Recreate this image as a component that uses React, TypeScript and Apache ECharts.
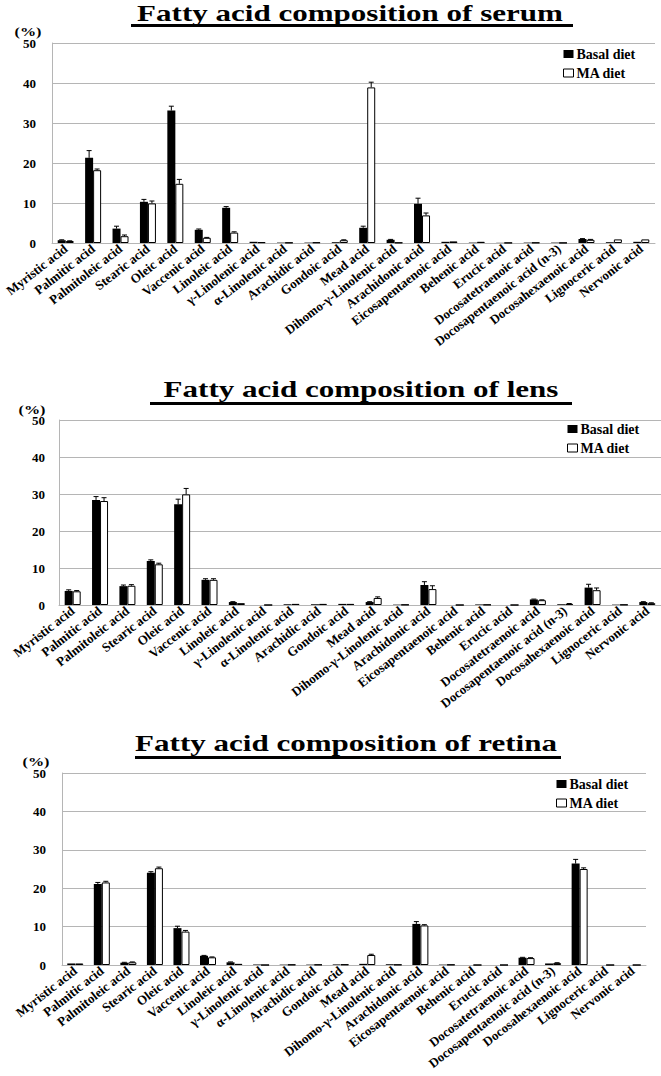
import React, { useEffect, useRef } from "react";
import * as echarts from "echarts";

const categories = [
  "Myristic acid",
  "Palmitic acid",
  "Palmitoleic acid",
  "Stearic acid",
  "Oleic acid",
  "Vaccenic acid",
  "Linoleic acid",
  "γ-Linolenic acid",
  "α-Linolenic acid",
  "Arachidic acid",
  "Gondoic acid",
  "Mead acid",
  "Dihomo-γ-Linolenic acid",
  "Arachidonic acid",
  "Eicosapentaenoic acid",
  "Behenic acid",
  "Erucic acid",
  "Docosatetraenoic acid",
  "Docosapentaenoic acid (n-3)",
  "Docosahexaenoic acid",
  "Lignoceric acid",
  "Nervonic acid",
];

const seriesNames = ["Basal diet", "MA diet"];
const yTicks = [0, 10, 20, 30, 40, 50];

const serumBasal = [0.7, 21.3, 3.6, 10.3, 33.1, 3.3, 8.8, 0.3, 0.1, 0.1, 0.2, 3.8, 0.8, 9.8, 0.3, 0.1, 0.05, 0.1, 0.1, 1.0, 0.2, 0.3];
const serumMA = [0.5, 18.2, 1.7, 9.9, 14.8, 1.3, 2.6, 0.2, 0.1, 0.15, 0.7, 38.9, 0.1, 6.9, 0.4, 0.3, 0.05, 0.1, 0.05, 0.8, 0.9, 0.9];
const serumBasalErr = [0.1, 1.8, 0.6, 0.6, 1.1, 0.2, 0.3, 0, 0, 0, 0, 0.4, 0.1, 1.4, 0, 0, 0, 0, 0, 0.1, 0, 0];
const serumMAErr = [0.05, 0.3, 0.3, 0.6, 1.1, 0.1, 0.2, 0, 0, 0, 0.1, 1.3, 0, 0.6, 0, 0, 0, 0, 0, 0.1, 0, 0];

const lensBasal = [3.8, 28.4, 5.1, 11.9, 27.2, 6.8, 0.8, 0, 0.2, 0.2, 0.3, 0.8, 0.1, 5.4, 0, 0.15, 0, 1.5, 0.2, 4.7, 0.1, 0.8];
const lensMA = [3.7, 28.1, 5.2, 11.0, 29.9, 6.8, 0.5, 0, 0.3, 0.3, 0.3, 1.9, 0.1, 4.3, 0, 0.1, 0, 1.3, 0.3, 4.0, 0.1, 0.5];
const lensBasalErr = [0.3, 0.9, 0.3, 0.3, 1.4, 0.3, 0.1, 0, 0, 0, 0, 0.1, 0, 0.9, 0, 0, 0, 0.1, 0, 0.9, 0, 0.1];
const lensMAErr = [0.2, 0.9, 0.3, 0.3, 1.6, 0.3, 0, 0, 0, 0, 0, 0.3, 0, 0.9, 0, 0, 0, 0.1, 0.1, 0.6, 0, 0.1];

const retinaBasal = [0.4, 21.1, 0.6, 24.0, 9.6, 2.4, 0.7, 0.1, 0.1, 0.1, 0.15, 0.3, 0.2, 10.7, 0.1, 0, 0, 1.9, 0.4, 26.4, 0, 0];
const retinaMA = [0.4, 21.5, 0.7, 25.2, 8.7, 2.0, 0.3, 0, 0.1, 0.1, 0.15, 2.6, 0.1, 10.3, 0.1, 0, 0, 1.8, 0.5, 25.0, 0, 0];
const retinaBasalErr = [0, 0.4, 0.1, 0.3, 0.5, 0.1, 0.1, 0, 0, 0, 0, 0, 0, 0.6, 0, 0, 0, 0.1, 0, 1.1, 0, 0];
const retinaMAErr = [0, 0.3, 0.1, 0.3, 0.3, 0.1, 0, 0, 0, 0, 0, 0.2, 0, 0.2, 0, 0, 0, 0.1, 0.1, 0.3, 0, 0];

const titles = [
  "Fatty acid composition of serum",
  "Fatty acid composition of lens",
  "Fatty acid composition of retina",
];

const FONT = '"Liberation Serif", "Times New Roman", serif';
const GRID_COLOR = "#b5b5b5";
const BAR_W = 8;

const panelData = [
  { basal: serumBasal, ma: serumMA, basalErr: serumBasalErr, maErr: serumMAErr },
  { basal: lensBasal, ma: lensMA, basalErr: lensBasalErr, maErr: lensMAErr },
  { basal: retinaBasal, ma: retinaMA, basalErr: retinaBasalErr, maErr: retinaMAErr },
];

const layout = [
  { grid: { left: 52, top: 43, width: 603, height: 200 }, labelMargin: 16, legend: { left: 563, top: 47 }, titleX: 350, titleY: 13, ul: { x: 131, y: 24, w: 442 }, pct: { x: 28, y: 32 } },
  { grid: { left: 59, top: 420, width: 602, height: 185 }, labelMargin: 14, legend: { left: 567, top: 422 }, titleX: 361, titleY: 389, ul: { x: 150, y: 402, w: 422 }, pct: { x: 32, y: 410 } },
  { grid: { left: 62, top: 773, width: 584, height: 192 }, labelMargin: 16, legend: { left: 556, top: 777 }, titleX: 346, titleY: 743, ul: { x: 135, y: 756, w: 426 }, pct: { x: 36, y: 762 } },
];

function errRenderer(offset: number) {
  return (params: any, api: any) => {
    const idx = api.value(0);
    const v = api.value(1);
    const e = api.value(2);
    const base = api.coord([idx, v]);
    const top = api.coord([idx, v + e]);
    const x = base[0] + offset;
    return {
      type: "group",
      children: [
        { type: "line", shape: { x1: x, y1: base[1], x2: x, y2: top[1] }, style: { stroke: "#000", lineWidth: 1 } },
        { type: "line", shape: { x1: x - 2.5, y1: top[1], x2: x + 2.5, y2: top[1] }, style: { stroke: "#000", lineWidth: 1 } },
      ],
    };
  };
}

function buildOption() {
  const grids: any[] = [];
  const xAxes: any[] = [];
  const yAxes: any[] = [];
  const legends: any[] = [];
  const series: any[] = [];
  const graphics: any[] = [];

  panelData.forEach((p, i) => {
    const L = layout[i];
    grids.push({ ...L.grid, containLabel: false, outerBoundsMode: "none" });
    xAxes.push({
      type: "category",
      gridIndex: i,
      data: categories,
      axisLine: { show: true, lineStyle: { color: GRID_COLOR, width: 1 } },
      axisTick: { show: false },
      axisLabel: {
        interval: 0,
        rotate: 38,
        margin: 4,
        color: "#000",
        fontFamily: FONT,
        fontWeight: "bold",
        fontSize: 13,
      },
    });
    yAxes.push({
      type: "value",
      gridIndex: i,
      min: yTicks[0],
      max: yTicks[yTicks.length - 1],
      interval: yTicks[1] - yTicks[0],
      axisLine: { show: true, lineStyle: { color: GRID_COLOR, width: 1 } },
      axisTick: { show: false },
      splitLine: { show: true, lineStyle: { color: GRID_COLOR, width: 1 } },
      axisLabel: {
        margin: L.labelMargin,
        color: "#000",
        fontFamily: FONT,
        fontWeight: "bold",
        fontSize: 13,
      },
    });
    legends.push({
      data: [
        { name: seriesNames[0], icon: "path://M0,0H10V8H0Z", itemStyle: { color: "#000", borderWidth: 0 } },
        { name: seriesNames[1], icon: "path://M0,0H10V8H0Z", itemStyle: { color: "#fff", borderColor: "#000", borderWidth: 1 } },
      ],
      orient: "vertical",
      left: L.legend.left,
      top: L.legend.top,
      padding: 0,
      itemWidth: 10,
      itemHeight: 8,
      itemGap: 5,
      selectedMode: false,
      textStyle: { fontFamily: FONT, fontWeight: "bold", fontSize: 14, color: "#000", padding: [0, 0, 0, -2] },
    });
    series.push({
      name: seriesNames[0],
      type: "bar",
      xAxisIndex: i,
      yAxisIndex: i,
      data: p.basal,
      barWidth: BAR_W,
      barGap: "0%",
      itemStyle: { color: "#000" },
    });
    series.push({
      name: seriesNames[1],
      type: "bar",
      xAxisIndex: i,
      yAxisIndex: i,
      data: p.ma,
      barWidth: BAR_W,
      barGap: "0%",
      itemStyle: { color: "#fff", borderColor: "#000", borderWidth: 1 },
    });
    series.push({
      name: seriesNames[0] + " SE",
      type: "custom",
      xAxisIndex: i,
      yAxisIndex: i,
      z: 5,
      silent: true,
      renderItem: errRenderer(-BAR_W / 2),
      encode: { x: 0, y: 1 },
      data: p.basalErr.map((e, k) => [k, p.basal[k], e]).filter((d) => d[2] > 0),
    });
    series.push({
      name: seriesNames[1] + " SE",
      type: "custom",
      xAxisIndex: i,
      yAxisIndex: i,
      z: 5,
      silent: true,
      renderItem: errRenderer(BAR_W / 2),
      encode: { x: 0, y: 1 },
      data: p.maErr.map((e, k) => [k, p.ma[k], e]).filter((d) => d[2] > 0),
    });

    graphics.push({
      type: "text",
      x: L.titleX,
      y: L.titleY,
      scaleX: 1.35,
      style: {
        text: titles[i],
        fontFamily: FONT,
        fontWeight: "bold",
        fontSize: 23,
        fill: "#000",
        align: "center",
        verticalAlign: "middle",
      },
    });
    graphics.push({
      type: "rect",
      shape: { x: L.ul.x, y: L.ul.y, width: L.ul.w, height: 3 },
      style: { fill: "#000" },
    });
    graphics.push({
      type: "text",
      x: L.pct.x,
      y: L.pct.y,
      scaleX: 1.35,
      style: {
        text: "(%)",
        fontFamily: FONT,
        fontWeight: "bold",
        fontSize: 12,
        fill: "#000",
        align: "center",
        verticalAlign: "middle",
      },
    });
  });

  return {
    animation: false,
    backgroundColor: "#fff",
    grid: grids,
    xAxis: xAxes,
    yAxis: yAxes,
    legend: legends,
    series,
    graphic: graphics,
  };
}

export default function App() {
  const ref = useRef<HTMLDivElement>(null);
  useEffect(() => {
    const chart = echarts.init(ref.current as HTMLDivElement, null, { renderer: "svg" });
    chart.setOption(buildOption() as any);
    return () => {
      chart.dispose();
    };
  }, []);
  return (
    <div
      ref={ref}
      style={{ position: "absolute", left: 0, top: 0, width: 661, height: 1076, background: "#fff" }}
    />
  );
}
